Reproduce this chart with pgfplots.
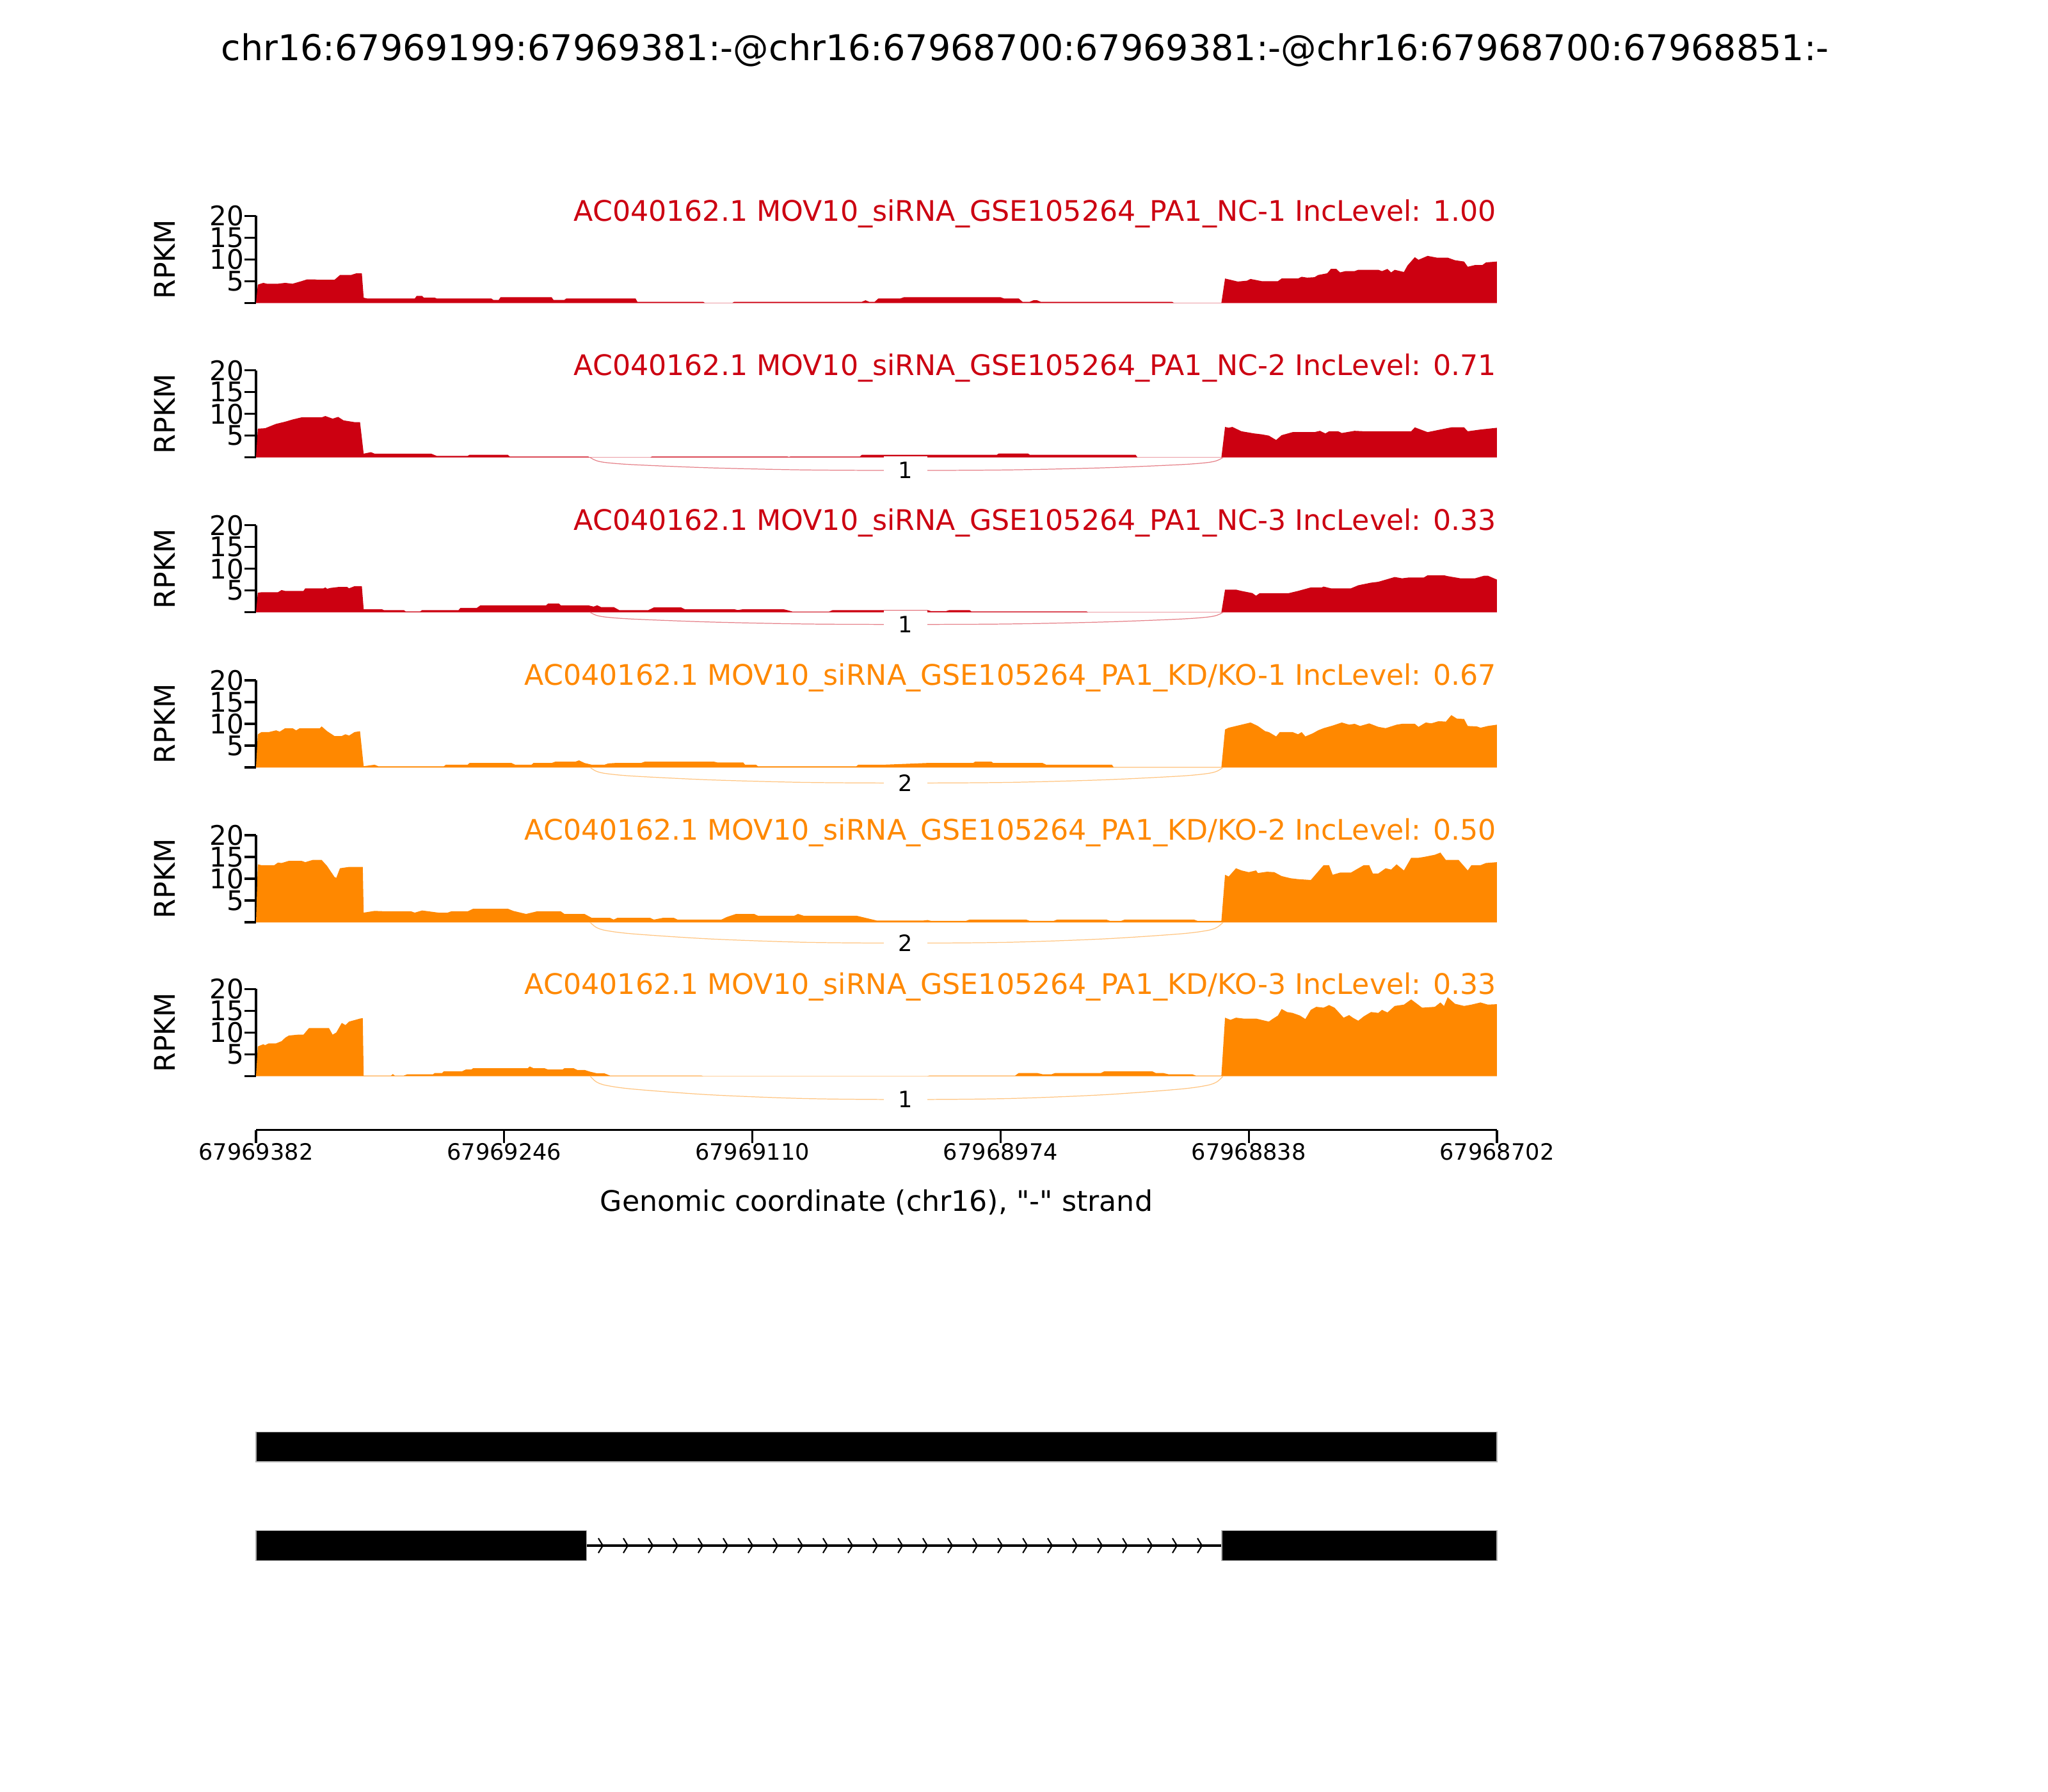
\documentclass[border=0pt]{standalone}
\usepackage{pgfplots}
\pgfplotsset{compat=1.18}
\usepackage{fontspec}
\setmainfont{DejaVu Sans}
\newfontfamily\plainfont{DejaVu Sans}
\definecolor{ncred}{HTML}{CC0011}
\definecolor{kdorange}{HTML}{FF8800}
\newcommand{\fs}[1]{\fontsize{#1}{#1}\selectfont}

% small right-pointing chevron for the intron strand marks
\pgfdeclareplotmark{chev}{%
  \pgfpathmoveto{\pgfqpoint{-0.04cm}{0.115cm}}%
  \pgfpathlineto{\pgfqpoint{0.03cm}{0cm}}%
  \pgfpathlineto{\pgfqpoint{-0.04cm}{-0.115cm}}%
  \pgfusepathqstroke}

\tikzset{
  jlabel/.style={fill=white, inner xsep=0.23cm, inner ysep=0.09cm, font=\fs{10}},
}
\pgfplotsset{
  panel/.style={
    at={(4cm,#1cm)}, anchor=south west,
    scale only axis, width=19.39cm, height=1.36cm,
    xmin=0, xmax=680, ymin=0, ymax=20, clip=false,
    axis x line=none, axis y line*=left,
    axis line style={line width=0.9pt},
    ytick={0,5,10,15,20}, yticklabels={,5,10,15,20},
    tick align=outside, major tick length=0.18cm,
    every tick/.style={black, line width=0.9pt},
    yticklabel style={font=\fs{12}, inner sep=0pt},
    ylabel={RPKM},
    ylabel style={at={(axis description cs:-0.0737,0.5)}, anchor=center, font=\fs{12.6}},
    /pgf/number format/assume math mode=true,
  },
}

\begin{document}
\begin{tikzpicture}
\path[use as bounding box] (0,0) rectangle (32,28);

\node[font=\fs{15.8}] at (16.02,27.22) {chr16:67969199:67969381:-@chr16:67968700:67969381:-@chr16:67968700:67968851:-};

% ---------- NC-1
\begin{axis}[panel=23.267]
\addplot[ncred!30, line width=0.4pt] coordinates {(0,0) (680,0)};
\addplot[fill=ncred, draw=none] coordinates {
(0,0)(1,4.2)(4,4.6)(6,4.4)(12,4.4)(16,4.6)(20,4.4)(25,5.0)(28,5.4)(32,5.4)(34,5.3)(43,5.3)(46,6.4)(52,6.4)(55,6.8)(58,6.8)
(59,1.2)(61,1.0)(87,1.0)(88,1.6)(91,1.6)(92,1.2)(98,1.2)(99,1.0)(129,1.0)(130,0.7)(133,0.7)(134,1.3)(162,1.3)(163,0.7)(169,0.7)(170,1.0)(208,1.0)
(209,0.25)(245,0.25)(246,0)(261,0)(262,0.25)(332,0.25)(334,0.6)(336,0.25)(339,0.25)(341,1.0)(353,1.0)(355,1.3)(408,1.3)(410,1.0)(418,1.0)(420,0.25)(424,0.25)(426,0.6)(428,0.6)(430,0.25)(502,0.25)(503,0)(529,0)
(531,5.6)(533,5.4)(538,4.9)(543,5.1)(545,5.5)(551,5.0)(560,5.0)(562,5.6)(571,5.6)(573,6.0)(576,5.8)(580,5.9)(582,6.4)(587,6.8)(589,7.8)(592,7.8)(594,7.0)(597,7.3)(602,7.3)(604,7.6)(615,7.6)(617,7.3)(620,7.8)(622,7.0)(624,7.6)(629,7.1)(631,8.6)(635,10.5)(637,9.9)(642,10.8)(647,10.4)(653,10.4)(657,9.8)(662,9.5)(664,8.3)(668,8.7)(672,8.7)(674,9.3)(680,9.5)(680,0)};
\node[anchor=base east, inner sep=0pt, yshift=-0.08cm, text=ncred, font=\fs{12.6}] at (rel axis cs:1,1) {AC040162.1 MOV10\_siRNA\_GSE105264\_PA1\_NC-1 IncLevel: 1.00};
\end{axis}

% ---------- NC-2
\begin{axis}[panel=20.853]
\addplot[ncred!30, line width=0.4pt] coordinates {(0,0) (680,0)};
\addplot[fill=ncred, draw=none] coordinates {
(0,0)(1,6.6)(5,6.7)(11,7.7)(16,8.2)(20,8.7)(25,9.2)(36,9.2)(38,9.5)(42,8.9)(45,9.3)(48,8.5)(54,8.1)(57,8.1)
(59,0.85)(63,1.2)(65,0.85)(96,0.85)(99,0.35)(116,0.35)(117,0.6)(138,0.6)(139,0.2)(182,0.2)(183,0)(216,0)(217,0.2)(291,0.2)(292,0.1)(293,0.2)(331,0.2)(332,0.6)(406,0.6)(407,0.9)(423,0.9)(424,0.6)(482,0.6)(483,0)(529,0)
(531,7.0)(533,6.8)(535,7.0)(540,6.0)(547,5.5)(551,5.3)(555,5.0)(559,4.0)(562,5.1)(568,5.8)(580,5.8)(583,6.1)(586,5.5)(588,6.0)(593,6.0)(595,5.6)(602,6.1)(607,6.0)(633,6.0)(635,6.9)(642,5.8)(649,6.4)(655,6.9)(662,6.9)(664,6.0)(671,6.4)(680,6.8)(680,0)};
\addplot[smooth, ncred!50, line width=0.35pt] coordinates {
(183,0)(186.5,-0.75)(192,-1.2)(207,-1.68)(249,-2.4)(301,-2.88)(356.5,-3.0)(412,-2.88)(464,-2.4)(506,-1.68)(521,-1.2)(526.5,-0.75)(530,0)};
\node[jlabel] at (axis cs:356,-3.0) {1};
\node[anchor=base east, inner sep=0pt, yshift=-0.08cm, text=ncred, font=\fs{12.6}] at (rel axis cs:1,1) {AC040162.1 MOV10\_siRNA\_GSE105264\_PA1\_NC-2 IncLevel: 0.71};
\end{axis}

% ---------- NC-3
\begin{axis}[panel=18.433]
\addplot[ncred!30, line width=0.4pt] coordinates {(0,0) (680,0)};
\addplot[fill=ncred, draw=none] coordinates {
(0,0)(1,4.5)(3,4.6)(12,4.6)(14,5.1)(16,4.9)(26,4.9)(27,5.5)(37,5.5)(38,5.7)(39,5.4)(41,5.6)(45,5.8)(50,5.8)(51,5.5)(54,6.0)(58,6.0)
(59,0.7)(69,0.7)(70,0.5)(81,0.5)(82,0.2)(90,0.2)(91,0.5)(111,0.5)(112,1.0)(121,1.0)(123,1.6)(159,1.6)(160,2.0)(166,2.0)(167,1.6)(182,1.6)(185,1.3)(187,1.6)(189,1.2)(196,1.2)(199,0.5)(215,0.5)(218,1.1)(233,1.1)(235,0.7)(262,0.7)(264,0.5)(267,0.7)(289,0.7)(291,0.5)(294,0.15)(314,0.15)(316,0.5)(368,0.5)(370,0.25)(378,0.25)(380,0.5)(391,0.5)(392,0.2)(455,0.2)(456,0)(529,0)
(531,5.2)(537,5.2)(540,4.9)(546,4.4)(548,3.8)(550,4.4)(566,4.4)(571,4.9)(578,5.7)(584,5.7)(585,5.9)(589,5.5)(600,5.5)(604,6.2)(611,6.8)(615,7.0)(624,8.1)(628,7.8)(632,8.0)(640,8.0)(642,8.5)(651,8.5)(653,8.3)(660,7.8)(668,7.8)(673,8.4)(675,8.4)(680,7.5)(680,0)};
\addplot[smooth, ncred!50, line width=0.35pt] coordinates {
(183,0)(186.5,-0.7)(192,-1.12)(207,-1.57)(249,-2.24)(301,-2.69)(356.5,-2.8)(412,-2.69)(464,-2.24)(506,-1.57)(521,-1.12)(526.5,-0.7)(530,0)};
\node[jlabel] at (axis cs:356,-2.8) {1};
\node[anchor=base east, inner sep=0pt, yshift=-0.08cm, text=ncred, font=\fs{12.6}] at (rel axis cs:1,1) {AC040162.1 MOV10\_siRNA\_GSE105264\_PA1\_NC-3 IncLevel: 0.33};
\end{axis}

% ---------- KD/KO-1
\begin{axis}[panel=16.01]
\addplot[kdorange!30, line width=0.4pt] coordinates {(0,0) (680,0)};
\addplot[fill=kdorange, draw=none] coordinates {
(0,0)(1,7.6)(3,8.1)(7,8.1)(11,8.5)(13,8.2)(16,9.0)(20,9.0)(22,8.5)(24,9.0)(35,9.0)(36,9.4)(39,8.3)(43,7.2)(47,7.2)(49,7.6)(51,7.3)(54,8.1)(57,8.3)
(59,0.25)(65,0.6)(67,0.25)(103,0.25)(104,0.6)(116,0.6)(117,1.0)(140,1.0)(142,0.6)(151,0.6)(152,1.0)(162,1.0)(164,1.3)(175,1.3)(177,1.6)(180,1.0)(184,0.6)(191,0.6)(193,0.9)(197,1.0)(211,1.0)(213,1.3)(251,1.3)(253,1.1)(267,1.1)(268,0.6)(274,0.6)(275,0.25)(329,0.25)(330,0.6)(344,0.6)(368,1.0)(393,1.0)(394,1.3)(403,1.3)(404,1.0)(431,1.0)(433,0.6)(469,0.6)(470,0)(529,0)
(531,8.7)(533,9.1)(537,9.5)(542,10.0)(545,10.3)(549,9.5)(553,8.3)(555,8.1)(559,7.1)(561,8.1)(568,8.1)(571,7.6)(573,8.1)(575,7.1)(579,7.8)(582,8.5)(585,9.0)(590,9.6)(595,10.3)(599,9.8)(602,10.0)(605,9.5)(610,10.1)(615,9.3)(619,9.0)(625,9.8)(628,10.0)(635,10.0)(637,9.3)(641,10.3)(644,10.1)(648,10.6)(652,10.5)(655,12.0)(658,11.2)(662,11.1)(664,9.5)(669,9.4)(671,9.1)(675,9.5)(680,9.8)(680,0)};
\addplot[smooth, kdorange!50, line width=0.35pt] coordinates {
(183,0)(186.5,-0.9)(192,-1.44)(207,-2.02)(249,-2.88)(301,-3.46)(356.5,-3.6)(412,-3.46)(464,-2.88)(506,-2.02)(521,-1.44)(526.5,-0.9)(530,0)};
\node[jlabel] at (axis cs:356,-3.6) {2};
\node[anchor=base east, inner sep=0pt, yshift=-0.08cm, text=kdorange, font=\fs{12.6}] at (rel axis cs:1,1) {AC040162.1 MOV10\_siRNA\_GSE105264\_PA1\_KD/KO-1 IncLevel: 0.67};
\end{axis}

% ---------- KD/KO-2
\begin{axis}[panel=13.59]
\addplot[kdorange!30, line width=0.4pt] coordinates {(0,0) (680,0)};
\addplot[fill=kdorange, draw=none] coordinates {
(0,0)(1,13.3)(3,13.1)(10,13.1)(12,13.7)(14,13.6)(18,14.1)(25,14.1)(27,13.8)(31,14.3)(36,14.3)(39,12.9)(43,10.4)(44,10.2)(46,12.4)(51,12.7)(58.5,12.7)
(59,2.2)(65,2.6)(71,2.5)(85,2.5)(87,2.2)(91,2.7)(100,2.2)(105,2.2)(107,2.5)(116,2.5)(119,3.1)(138,3.1)(141,2.6)(148,1.9)(154,2.5)(167,2.5)(169,1.9)(180,1.9)(184,1.0)(194,1.0)(196,0.6)(198,1.0)(216,1.0)(218,0.6)(223,1.0)(229,1.0)(231,0.6)(255,0.6)(258,1.2)(263,1.9)(273,1.9)(275,1.5)(295,1.5)(297,1.9)(300,1.5)(329,1.5)(335,0.9)(340,0.4)(366,0.4)(368,0.5)(370,0.3)(389,0.3)(391,0.6)(422,0.6)(424,0.3)(437,0.3)(439,0.6)(466,0.6)(468,0.3)(474,0.3)(476,0.6)(514,0.6)(516,0.3)(529,0.3)
(531,10.9)(533,10.5)(537,12.4)(540,11.9)(544,11.5)(548,11.9)(549,11.3)(554,11.6)(558,11.5)(562,10.6)(567,10.1)(571,9.9)(578,9.7)(585,13.1)(588,13.1)(590,10.9)(594,11.4)(600,11.4)(602,11.9)(607,13.1)(610,13.1)(612,11.2)(615,11.2)(619,12.4)(622,12.1)(625,13.3)(629,11.9)(633,14.8)(637,14.8)(640,15.0)(646,15.5)(649,16.0)(652,14.3)(659,14.3)(664,11.9)(666,13.1)(671,13.1)(674,13.6)(680,13.8)(680,0)};
\addplot[smooth, kdorange!50, line width=0.35pt] coordinates {
(183,0)(186.5,-1.2)(192,-1.92)(207,-2.69)(249,-3.84)(301,-4.61)(356.5,-4.8)(412,-4.61)(464,-3.84)(506,-2.69)(521,-1.92)(526.5,-1.2)(530,0)};
\node[jlabel] at (axis cs:356,-4.8) {2};
\node[anchor=base east, inner sep=0pt, yshift=-0.08cm, text=kdorange, font=\fs{12.6}] at (rel axis cs:1,1) {AC040162.1 MOV10\_siRNA\_GSE105264\_PA1\_KD/KO-2 IncLevel: 0.50};
\end{axis}

% ---------- KD/KO-3
\begin{axis}[panel=11.187]
\addplot[kdorange!30, line width=0.4pt] coordinates {(0,0) (680,0)};
\addplot[fill=kdorange, draw=none] coordinates {
(0,0)(1,6.8)(4,7.3)(5,7.1)(7,7.5)(11,7.5)(14,8.0)(16,8.8)(18,9.3)(23,9.5)(26,9.5)(29,11.0)(40,11.0)(42,9.5)(44,10.0)(47,12.2)(49,11.7)(51,12.5)(57,13.2)(58.5,13.3)
(59,0.1)(74,0.1)(75,0.45)(76,0.1)(81,0.1)(83,0.4)(97,0.4)(98,0.7)(102,0.7)(103,1.1)(113,1.1)(115,1.5)(118,1.5)(119,1.8)(149,1.8)(150,2.2)(152,1.8)(158,1.8)(160,1.5)(168,1.5)(169,1.8)(174,1.8)(176,1.4)(180,1.4)(183,1.0)(187,0.6)(191,0.6)(194,0.1)(244,0.1)(245,0)(368,0)(369,0.1)(416,0.1)(418,0.7)(428,0.7)(431,0.4)(436,0.4)(438,0.7)(463,0.7)(465,1.1)(491,1.1)(493,0.7)(497,0.7)(500,0.4)(513,0.4)(515,0.1)(529,0.1)
(531,13.4)(534,12.9)(537,13.4)(541,13.2)(548,13.2)(553,12.7)(555,12.5)(557,13.1)(560,13.9)(562,15.4)(565,14.7)(568,14.5)(572,13.9)(575,13.1)(578,15.2)(581,15.9)(585,15.7)(588,16.3)(591,15.7)(596,13.4)(599,14.0)(601,13.4)(604,12.7)(607,13.7)(611,14.7)(615,14.5)(617,15.2)(620,14.6)(624,16.1)(629,16.4)(633,17.6)(639,15.7)(646,15.9)(649,16.9)(651,16.1)(653,18.1)(657,16.6)(662,16.1)(666,16.4)(671,16.9)(675,16.4)(680,16.5)(680,0)};
\addplot[smooth, kdorange!50, line width=0.35pt] coordinates {
(183,0)(186.5,-1.35)(192,-2.16)(207,-3.02)(249,-4.32)(301,-5.18)(356.5,-5.4)(412,-5.18)(464,-4.32)(506,-3.02)(521,-2.16)(526.5,-1.35)(530,0)};
\node[jlabel] at (axis cs:356,-5.4) {1};
\node[anchor=base east, inner sep=0pt, yshift=-0.08cm, text=kdorange, font=\fs{12.6}] at (rel axis cs:1,1) {AC040162.1 MOV10\_siRNA\_GSE105264\_PA1\_KD/KO-3 IncLevel: 0.33};
\end{axis}

% ---------- genomic coordinate axis
\begin{axis}[
  at={(4cm,10.343cm)}, anchor=south west,
  scale only axis, width=19.39cm, height=0.5cm,
  xmin=0, xmax=680, ymin=0, ymax=1,
  axis x line*=bottom, axis y line=none,
  axis line style={line width=0.9pt},
  xtick={0,136,272,408,544,680},
  xticklabels={67969382,67969246,67969110,67968974,67968838,67968702},
  tick align=outside, major tick length=0.2cm,
  every tick/.style={black, line width=0.9pt},
  xticklabel style={font=\fs{10}, inner sep=0pt},
  xlabel={\plainfont Genomic coordinate (chr16), "-" strand},
  xlabel style={at={(axis description cs:0.5,0)}, anchor=center, yshift=-1.125cm, font=\fs{12.6}},
  /pgf/number format/assume math mode=true,
]
\end{axis}

% ---------- transcript structures
\begin{axis}[
  at={(4cm,3cm)}, anchor=south west,
  scale only axis, width=19.39cm, height=3cm,
  xmin=0, xmax=680, ymin=0, ymax=3,
  hide axis, clip=false,
]
\addplot[fill=black, draw=gray!60, line width=0.3pt] coordinates {(0,2.16)(680,2.16)(680,2.623)(0,2.623)} --cycle;
\addplot[black, line width=1.1pt] coordinates {(181,0.85)(530,0.85)};
\addplot[black, only marks, mark=chev, mark options={line width=0.6pt}] coordinates {
(189,0.85)(202.7,0.85)(216.4,0.85)(230,0.85)(243.7,0.85)(257.4,0.85)(271.1,0.85)(284.8,0.85)(298.4,0.85)(312.1,0.85)(325.8,0.85)(339.5,0.85)(353.2,0.85)
(366.8,0.85)(380.5,0.85)(394.2,0.85)(407.9,0.85)(421.6,0.85)(435.2,0.85)(448.9,0.85)(462.6,0.85)(476.3,0.85)(490,0.85)(503.6,0.85)(517.3,0.85)};
\addplot[fill=black, draw=gray!60, line width=0.3pt] coordinates {(0,0.617)(181.3,0.617)(181.3,1.083)(0,1.083)} --cycle;
\addplot[fill=black, draw=gray!60, line width=0.3pt] coordinates {(529.2,0.617)(680,0.617)(680,1.083)(529.2,1.083)} --cycle;
\end{axis}

\end{tikzpicture}
\end{document}
